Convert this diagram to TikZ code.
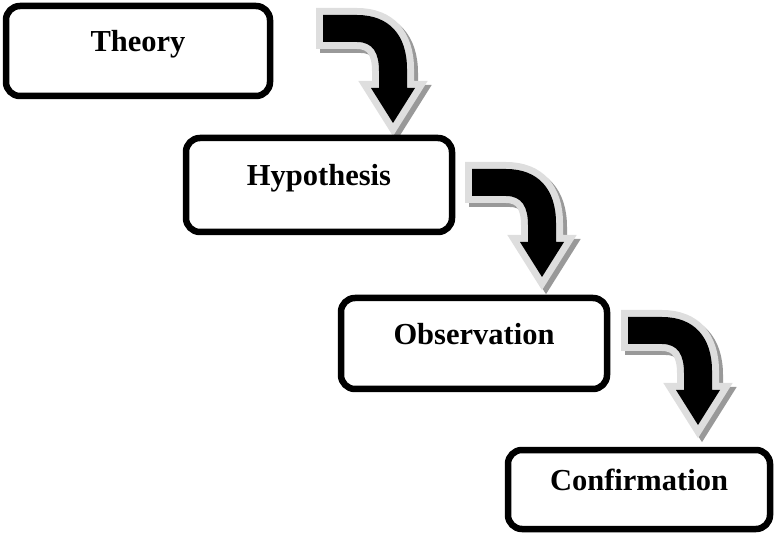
\documentclass[tikz,border=0pt]{standalone}
\usepackage{fontspec}
\setmainfont{Liberation Serif}
\usepackage{tikz}

% outline of one bent arrow, tail top-left at the origin
\newcommand{\bentpath}{(0,0) -- (34,0) .. controls (66,0) and (84,20) .. (84,54)
  -- (84,73) -- (92,73) -- (70,108) -- (48,73) -- (56,73) -- (56,56)
  .. controls (56,38) and (50,27) .. (34,27) -- (0,27) -- cycle}

\tikzset{
  stagebox/.style={draw, line width=6.5pt, rounded corners=14pt, fill=white,
    inner sep=0pt, font=\fontsize{30.5}{36}\selectfont\bfseries,
    text height=20pt, text depth=18pt},
  bentarrow/.pic={
    % shadow
    \filldraw[black!40, line width=14pt, line join=miter, shift={(4,4)}] \bentpath;
    % light rim
    \filldraw[black!13, line width=14pt, line join=miter] \bentpath;
    % body
    \fill[black] \bentpath;
  }
}

\begin{document}
\begin{tikzpicture}[x=1pt, y=-1pt]
  \useasboundingbox (0,0) rectangle (779,534);
  % Arrows
  \pic at (323,15) {bentarrow};
  \pic at (472,169) {bentarrow};
  \pic at (628,317) {bentarrow};
  % Stages
  \node[stagebox, minimum width=264pt, minimum height=90pt] (theory) at (138,51) {Theory};
  \node[stagebox, minimum width=266pt, minimum height=94pt] (hypo) at (319,185) {Hypothesis};
  \node[stagebox, minimum width=266pt, minimum height=91pt] (obs) at (474,343.5) {Observation};
  \node[stagebox, minimum width=262pt, minimum height=79pt] (conf) at (639,489.5) {Confirmation};
\end{tikzpicture}
\end{document}
